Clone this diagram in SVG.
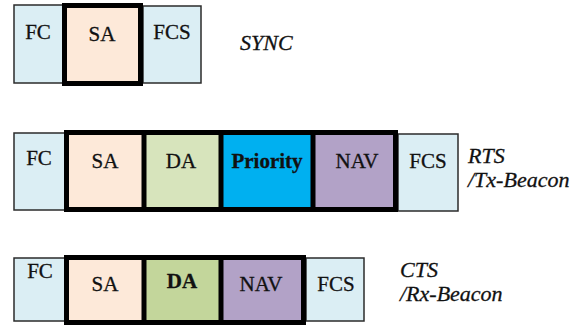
<svg xmlns="http://www.w3.org/2000/svg" width="574" height="329" viewBox="0 0 574 329" font-family="'Liberation Serif', 'Times New Roman', 'DejaVu Serif', serif">
  <style>
    .cell { stroke: #2b2b2b; stroke-width: 1.5; }
    .fc { fill: #dbeef4; }
    .sa { fill: #fde9d9; }
    .da { fill: #d7e4bc; }
    .da2 { fill: #c3d69b; }
    .pri { fill: #00b0f0; }
    .nav { fill: #b2a2c7; }
    .frame { fill: none; stroke: #000; stroke-width: 5; }
    .div { stroke: #000; stroke-width: 5; }
    text { font-family: "Liberation Serif", "Times New Roman", "DejaVu Serif", serif; stroke: #111; stroke-width: 0.3; }
    .lbl { font-size: 21px; fill: #111; text-anchor: middle; }
    .b { font-weight: bold; }
    .tag { font-size: 22px; font-style: italic; fill: #111; }
  </style>

  <!-- SYNC frame -->
  <g id="sync">
    <rect class="cell fc" x="14" y="5" width="49" height="78"/>
    <rect class="cell sa" x="64.5" y="5.5" width="76" height="78"/>
    <rect class="cell fc" x="143" y="6" width="58" height="77"/>
    <rect class="frame" x="64.5" y="5.5" width="76" height="78"/>
    <text class="lbl" x="38" y="39">FC</text>
    <text class="lbl" x="102" y="41">SA</text>
    <text class="lbl" x="172" y="39">FCS</text>
    <text class="tag" x="240" y="50">SYNC</text>
  </g>

  <!-- RTS / Tx-Beacon frame -->
  <g id="rts">
    <rect class="cell fc" x="14" y="133" width="51" height="77"/>
    <rect class="cell sa" x="66.5" y="132.5" width="77.5" height="77"/>
    <rect class="cell da" x="144" y="132.5" width="77" height="77"/>
    <rect class="cell pri" x="221" y="132.5" width="92" height="77"/>
    <rect class="cell nav" x="313" y="132.5" width="82.5" height="77"/>
    <rect class="cell fc" x="398" y="134" width="60" height="77"/>
    <rect class="frame" x="66.5" y="132.5" width="329" height="77"/>
    <line class="div" x1="144" y1="132.5" x2="144" y2="209.5"/>
    <line class="div" x1="221" y1="132.5" x2="221" y2="209.5"/>
    <line class="div" x1="313" y1="132.5" x2="313" y2="209.5"/>
    <text class="lbl" x="39" y="165">FC</text>
    <text class="lbl" x="105" y="168">SA</text>
    <text class="lbl" x="181" y="168">DA</text>
    <text class="lbl b" x="267" y="168">Priority</text>
    <text class="lbl" x="357" y="168">NAV</text>
    <text class="lbl" x="428" y="168">FCS</text>
    <text class="tag" x="468" y="163">RTS</text>
    <text class="tag" x="468" y="187">/Tx-Beacon</text>
  </g>

  <!-- CTS / Rx-Beacon frame -->
  <g id="cts">
    <rect class="cell fc" x="14" y="258" width="51" height="63"/>
    <rect class="cell sa" x="66.5" y="257.5" width="77.5" height="65"/>
    <rect class="cell da2" x="144" y="257.5" width="77" height="65"/>
    <rect class="cell nav" x="221" y="257.5" width="82.5" height="65"/>
    <rect class="cell fc" x="306" y="258" width="58" height="63"/>
    <rect class="frame" x="66.5" y="257.5" width="237" height="65"/>
    <line class="div" x1="144" y1="257.5" x2="144" y2="322.5"/>
    <line class="div" x1="221" y1="257.5" x2="221" y2="322.5"/>
    <text class="lbl" x="40" y="278">FC</text>
    <text class="lbl" x="105" y="291">SA</text>
    <text class="lbl b" x="182" y="288">DA</text>
    <text class="lbl" x="261" y="291">NAV</text>
    <text class="lbl" x="336" y="291">FCS</text>
    <text class="tag" x="400" y="277">CTS</text>
    <text class="tag" x="400" y="301">/Rx-Beacon</text>
  </g>
</svg>
